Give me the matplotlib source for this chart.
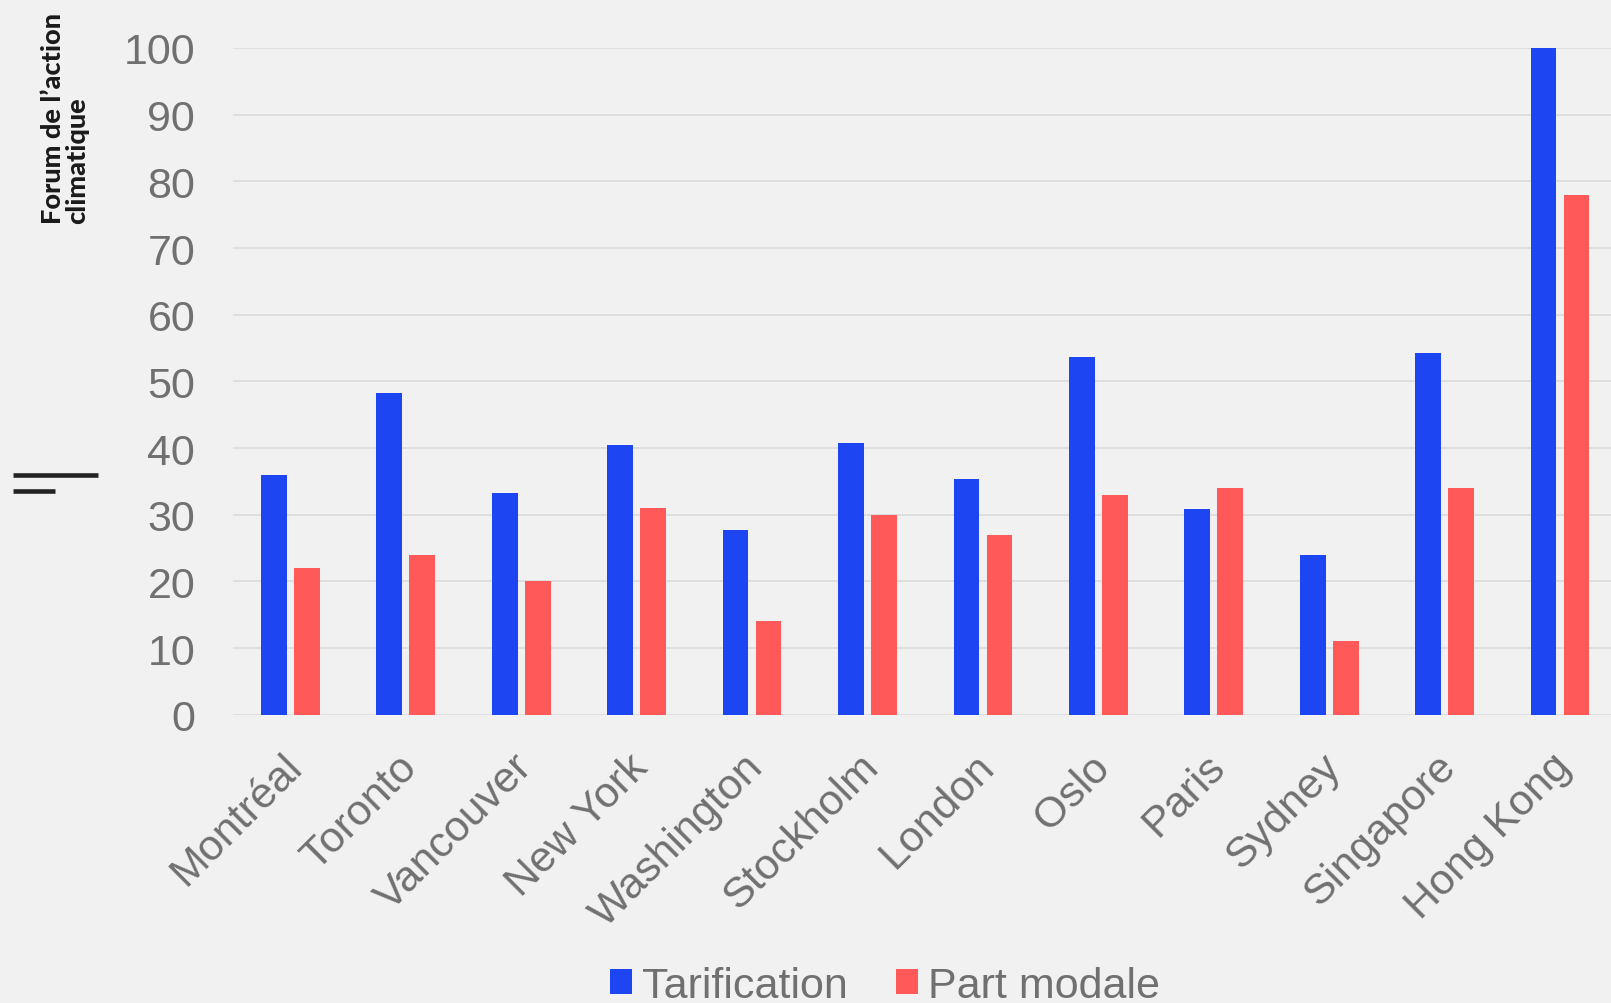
import matplotlib.pyplot as plt
from matplotlib.lines import Line2D
from matplotlib.transforms import ScaledTranslation
import numpy as np

BLUE = '#1d46f2'
RED = '#ff5959'
BG = '#f1f1f1'
GRID = '#dedede'
TXT = '#707070'

cities = ['Montréal', 'Toronto', 'Vancouver', 'New York', 'Washington', 'Stockholm',
          'London', 'Oslo', 'Paris', 'Sydney', 'Singapore', 'Hong Kong']
tarification = [36.0, 48.3, 33.2, 40.4, 27.7, 40.8, 35.4, 53.7, 30.8, 24.0, 54.2, 100.0]
part_modale = [22, 24, 20, 31, 14, 30, 27, 33, 34, 11, 34, 78]
series_names = ['Tarification', 'Part modale']
yticks = list(range(0, 101, 10))

W, H = 1611, 1004
plt.rcParams['font.family'] = ['Liberation Sans', 'DejaVu Sans']

fig = plt.figure(figsize=(W / 100, H / 100), dpi=100, facecolor=BG)
# plot area runs slightly past the right edge, like the original
ax = fig.add_axes([232.7 / W, 1 - 715.7 / H, 1385 / W, 666.7 / H])
ax.set_facecolor(BG)

x = np.arange(len(cities))
bw = 0.223
ax.bar(x - 0.143, tarification, bw, color=BLUE, label=series_names[0], zorder=3)
ax.bar(x + 0.143, part_modale, bw, color=RED, label=series_names[1], zorder=3)

ax.set_xlim(-0.5, len(cities) - 0.5)
ax.set_ylim(0, 100)
ax.set_yticks(yticks)
ax.grid(axis='y', color=GRID, lw=1.4, zorder=0)
ax.set_axisbelow(True)
for s in ax.spines.values():
    s.set_visible(False)

ax.tick_params(length=0, labelsize=31, labelcolor=TXT)
ax.tick_params(axis='y', pad=27)
ax.tick_params(axis='x', pad=27)
ax.set_xticks(x, cities, rotation=45, ha='right', va='top', rotation_mode='anchor')
shift = ScaledTranslation(-0.09, 0.06, fig.dpi_scale_trans)
for lab in ax.get_xticklabels():
    lab.set_transform(lab.get_transform() + shift)

fig.legend(loc='center', bbox_to_anchor=(885 / W, 1 - 987 / H), ncol=2, frameon=False,
           fontsize=31, labelcolor=TXT, handlelength=0.51, handleheight=0.53,
           handletextpad=0.23, columnspacing=1.14, borderpad=0)

# logo, top left
fig.text(65 / W, 1 - 224 / H, 'Forum de l\u2019action\nclimatique', rotation=90,
         ha='center', va='bottom', multialignment='left', fontsize=19.5,
         fontweight='black', family=['Lato', 'DejaVu Sans'], color='#1a1a1a', linespacing=1.0)
fig.add_artist(Line2D([13 / W, 98 / W], [1 - 475.7 / H] * 2, lw=3.3, color='#222222',
                      solid_capstyle='butt'))
fig.add_artist(Line2D([13 / W, 55 / W], [1 - 492.3 / H] * 2, lw=3.3, color='#222222',
                      solid_capstyle='butt'))

fig.savefig('out.png', dpi=100, facecolor=BG)
